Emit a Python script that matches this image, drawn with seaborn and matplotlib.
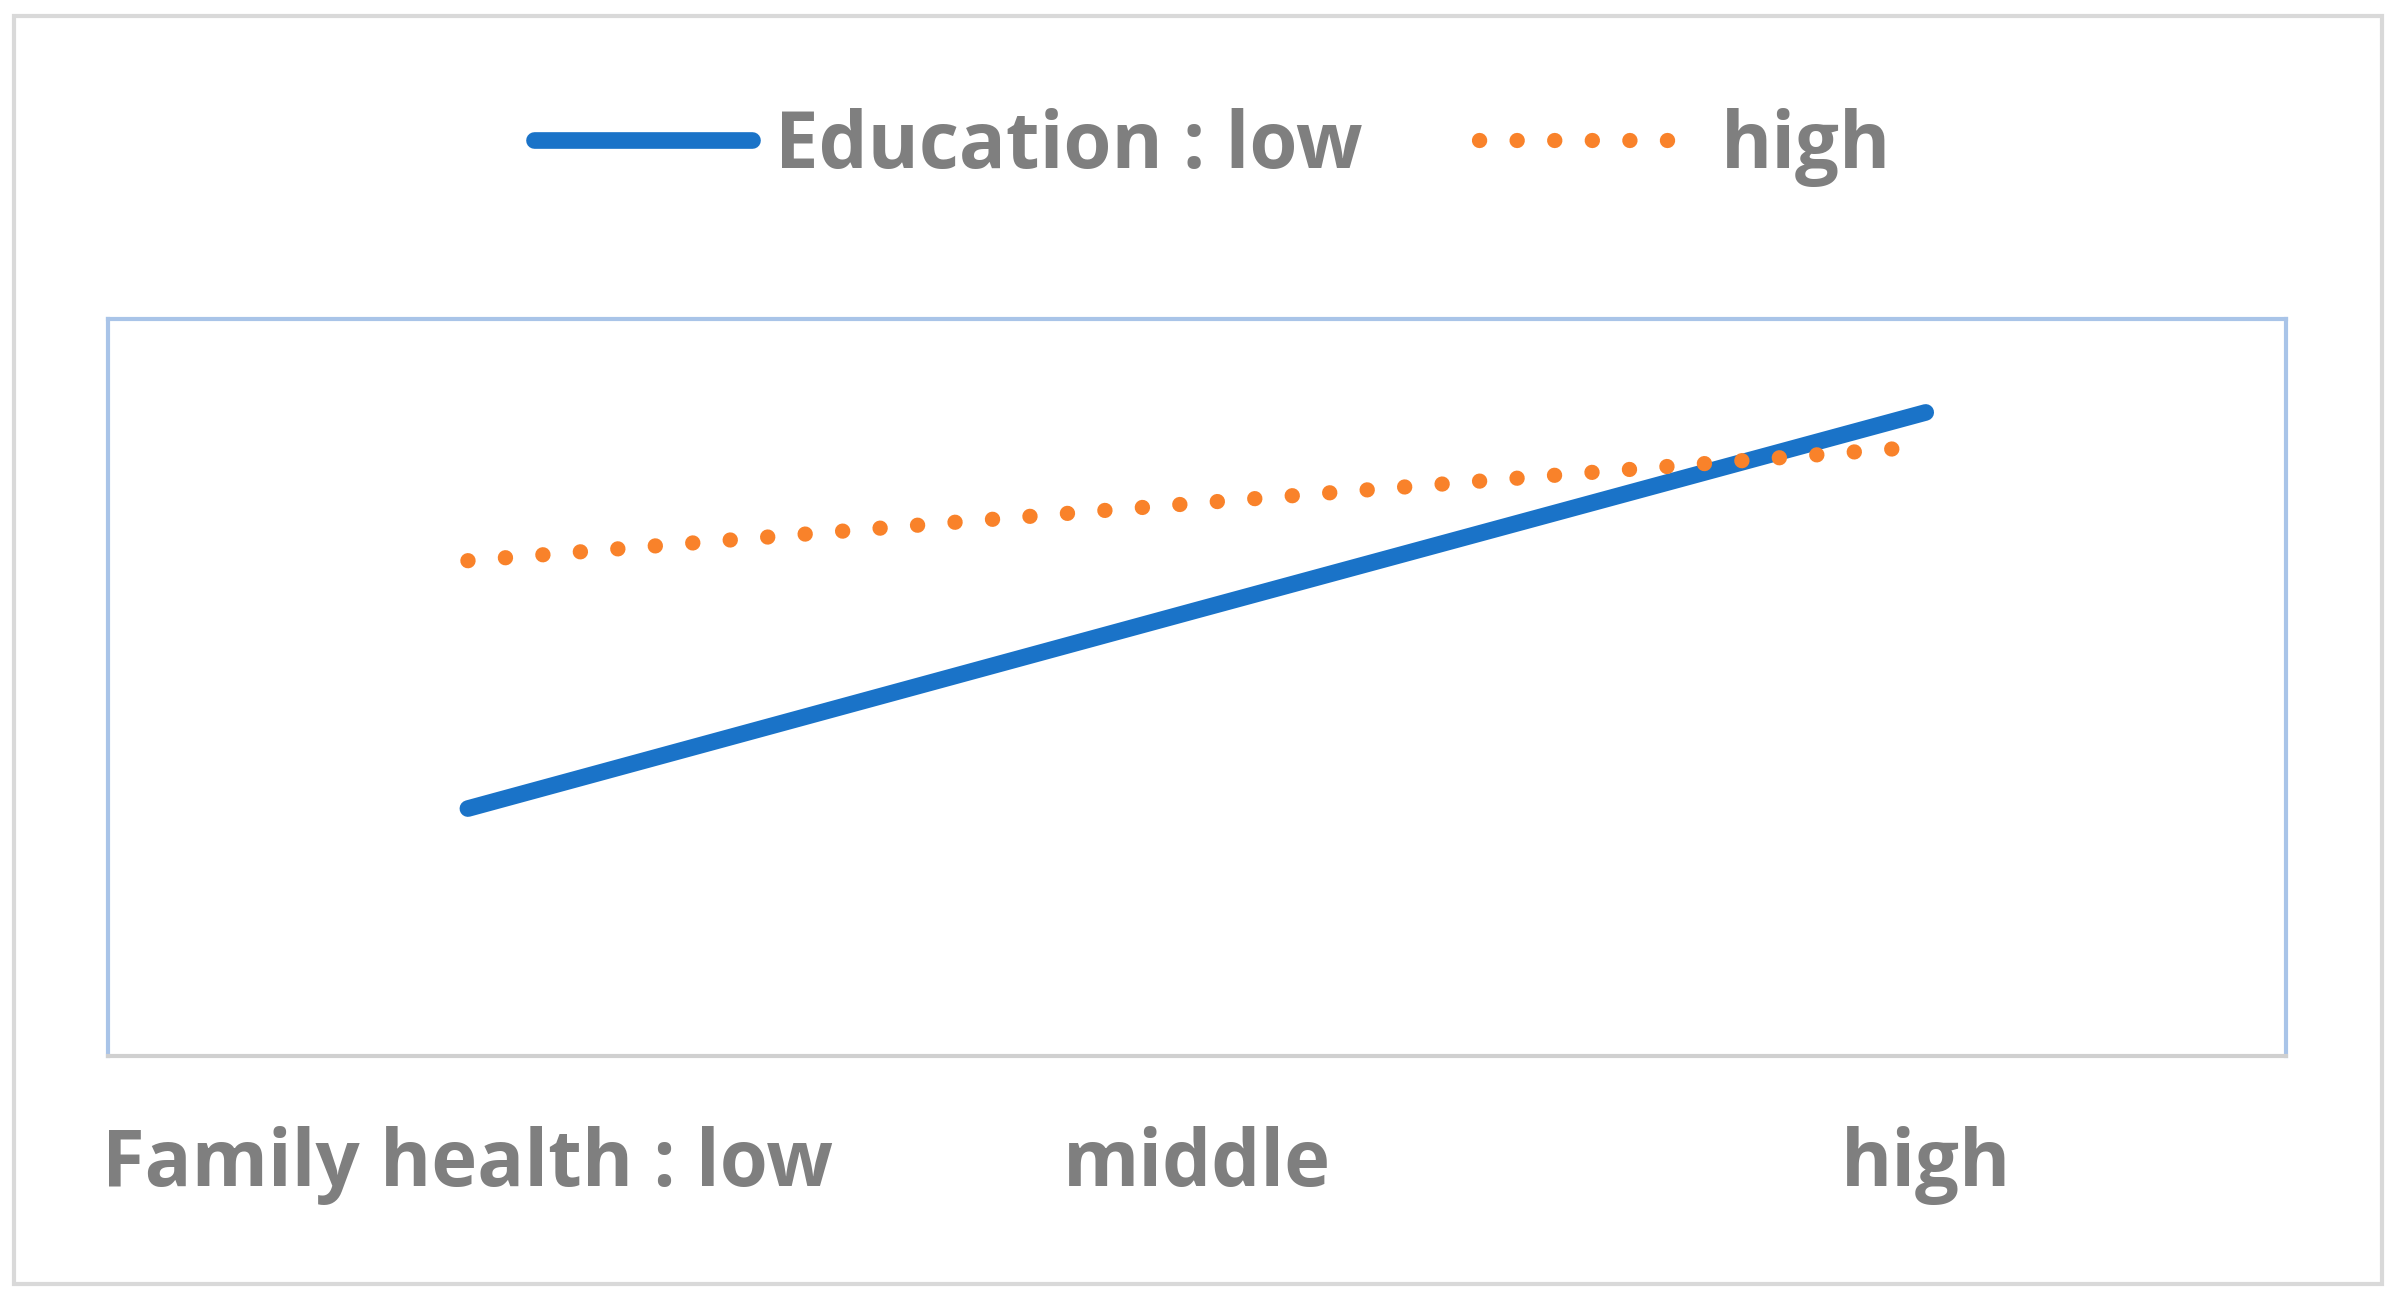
import matplotlib
matplotlib.use('Agg')
import matplotlib.pyplot as plt
import seaborn as sns
import pandas as pd
from matplotlib.patches import Rectangle

sns.set_style('white')
plt.rcParams['font.family'] = ['Open Sans', 'DejaVu Sans']

health = ['Family health : low', 'middle', 'high']
edu_low = [0.336, 0.605, 0.873]
edu_high = [0.672, 0.750, 0.827]

df = pd.DataFrame({'x': [0, 1, 2], 'low': edu_low, 'high': edu_high})

fig = plt.figure(figsize=(23.96, 13.01), dpi=100)
ax = fig.add_axes([0.045, 0.188, 0.909, 0.567])

sns.lineplot(data=df, x='x', y='low', ax=ax, color='#1a73c8', lw=12,
             solid_capstyle='round', label='Education : low')
sns.lineplot(data=df, x='x', y='high', ax=ax, color='#f9822a', lw=11,
             dashes=(0.01, 2.45), dash_capstyle='round', label='high')

ax.set_xlim(-0.494, 2.494)
ax.set_ylim(0, 1)
ax.set_xticks([0, 1, 2])
ax.set_xticklabels(health, fontsize=56, fontweight='bold', color='#7f7f7f')
ax.tick_params(axis='x', length=0, pad=50)
ax.set_yticks([])
ax.set_xlabel('')
ax.set_ylabel('')
for s in ['left', 'right', 'top']:
    ax.spines[s].set_color('#a9c4e8')
    ax.spines[s].set_linewidth(3)
ax.spines['bottom'].set_color('#d0d0d0')
ax.spines['bottom'].set_linewidth(3)

handles, labels = ax.get_legend_handles_labels()
ax.get_legend().remove()
leg = fig.legend(handles, labels, loc='center', bbox_to_anchor=(0.506, 0.887),
                 ncol=2, frameon=False, handlelength=2.8, handletextpad=0.3,
                 columnspacing=1.5, prop={'size': 56, 'weight': 'bold'})
for t in leg.get_texts():
    t.set_color('#7f7f7f')

fig.patches.append(Rectangle((0.006, 0.013), 0.988, 0.975, transform=fig.transFigure,
                             fill=False, edgecolor='#d9d9d9', lw=3))

fig.savefig('out.png', dpi=100)
